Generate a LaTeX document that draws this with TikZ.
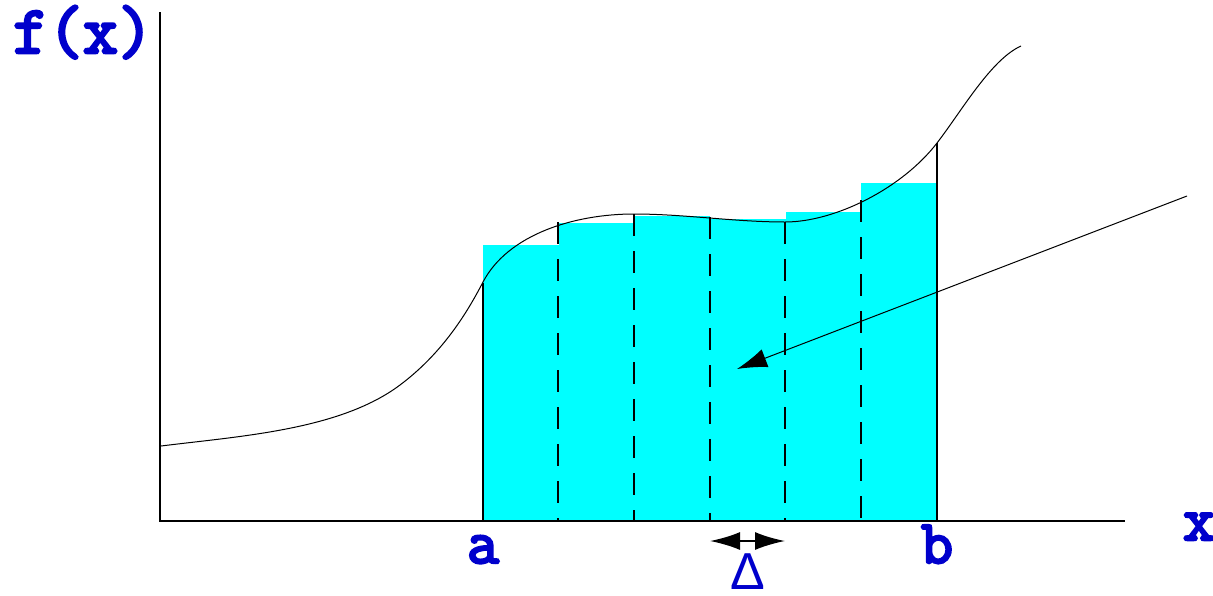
\documentclass[tikz,border=0pt]{standalone}
\usepackage{fontspec}
\usetikzlibrary{arrows.meta}
\newfontfamily\labelfont{Latin Modern Mono}[FakeBold=4]
\newfontfamily\deltafont{Liberation Sans}
\definecolor{labelblue}{RGB}{0,0,204}
\definecolor{barcyan}{RGB}{0,255,255}
\begin{document}
\begin{tikzpicture}[
    x=1pt, y=-1pt,
    axis/.style={line width=2pt},
    bar/.style={fill=barcyan},
    edge/.style={line width=2pt},
    divider/.style={line width=2pt, dash pattern=on 22pt off 15pt},
    lbl/.style={text=labelblue, font=\labelfont\fontsize{62}{62}\selectfont, inner sep=0pt, anchor=base},
    arrow/.style={-{Latex[length=30pt, width=19pt]}, line width=1pt}
]
\useasboundingbox (0,0) rectangle (1213,595);
% bars
\foreach \i/\top in {0/245, 1/223, 2/216, 3/219, 4/212, 5/183}
    \fill[bar] (483+\i*75.67,521) rectangle (483+\i*75.67+75.67,\top);
% dividers
\foreach \xd/\yd in {558/222, 634/214, 710/217, 785/222, 861/200}
    \draw[divider] (\xd,\yd) -- (\xd,521);
\draw[edge] (483,521) -- (483,283);
\draw[edge] (937,521) -- (937,143);
% the function
\draw[line width=1pt] (161,446) .. controls (241,436) and (340,430) .. (400,385)
    .. controls (440,355) and (465,317) .. (483,282)
    .. controls (508,234.5) and (574,214) .. (634,214)
    .. controls (684,214) and (735,222) .. (785,222)
    .. controls (835,222) and (902,188.5) .. (937,143)
    .. controls (962,110.5) and (991,59.5) .. (1021,46);
% axes
\coordinate (origin) at (160,521);
\coordinate (ytop) at (160,12);
\coordinate (xend) at (1125,521);
\draw[axis] (ytop) -- (origin) -- (xend);
% labels
\node[lbl, font=\labelfont\fontsize{68}{68}\selectfont] (flabel) at (83,53) {f(x)};
\node[lbl] (xlabel) at (1199,540) {x};
\node[lbl] (alabel) at (483,563) {a};
\node[lbl] (blabel) at (937,563) {b};
\node[text=labelblue, font=\deltafont\fontsize{52}{52}\selectfont, inner sep=0pt, anchor=base] (dlabel) at (748,589) {Δ};
% arrows
\coordinate (from) at (1187,196);
\coordinate (to) at (737,369);
\draw[arrow] (from) -- (to);
\coordinate (dleft) at (710,541);
\coordinate (dright) at (785,541);
\draw[{Latex[length=30pt, width=18pt]}-{Latex[length=30pt, width=18pt]}, line width=2pt] (dleft) -- (dright);
\end{tikzpicture}
\end{document}
